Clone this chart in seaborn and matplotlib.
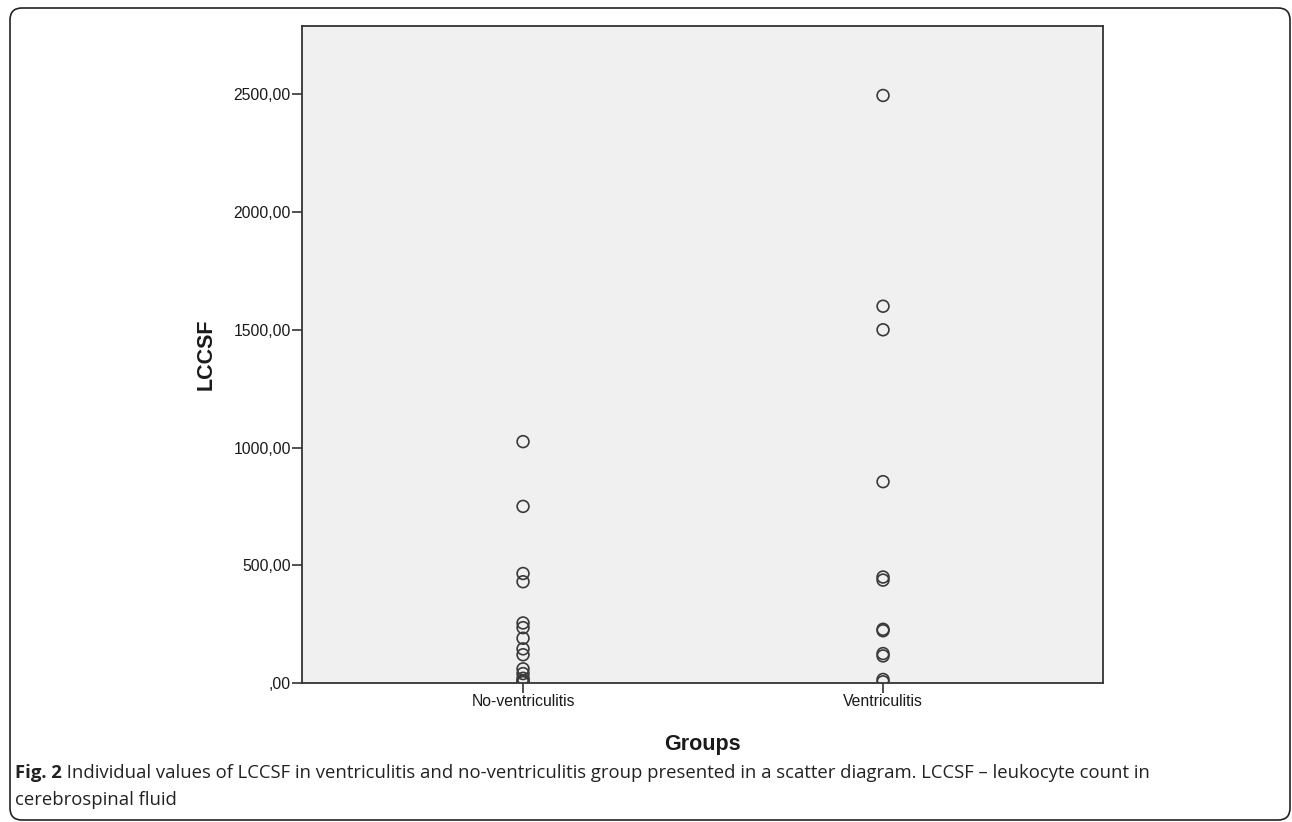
import seaborn as sns
import matplotlib.pyplot as plt
import matplotlib.patches as mpatches
import matplotlib.transforms as mtransforms
import pandas as pd

# Valores individuales de LCCSF por grupo
groups = ["No-ventriculitis", "Ventriculitis"]
no_ventriculitis = [1025, 750, 465, 430, 255, 235, 190, 145, 120, 60, 40, 20, 10, 5, 2]
ventriculitis = [2495, 1600, 1500, 855, 450, 437, 228, 222, 125, 115, 15, 5]

y_ticks = [0, 500, 1000, 1500, 2000, 2500]
y_tick_labels = [",00", "500,00", "1000,00", "1500,00", "2000,00", "2500,00"]

caption_bold = "Fig. 2"
caption_rest = (" Individual values of LCCSF in ventriculitis and no-ventriculitis group "
                "presented in a scatter diagram. LCCSF \u2013 leukocyte count in")
caption_line2 = "cerebrospinal fluid"

df = pd.DataFrame({
    "Groups": [groups[0]] * len(no_ventriculitis) + [groups[1]] * len(ventriculitis),
    "LCCSF": no_ventriculitis + ventriculitis,
})

sns.set_style("white")
plt.rcParams["font.family"] = ["Liberation Sans", "DejaVu Sans"]

fig = plt.figure(figsize=(12.92, 8.22), dpi=100)
ax = fig.add_axes([302 / 1292, 1 - 683 / 822, 801 / 1292, 657 / 822])
ax.set_facecolor("#f0f0f0")

sns.stripplot(data=df, x="Groups", y="LCCSF", order=groups, jitter=False,
              size=8.5, linewidth=1.2, color="#3a3a3a", ax=ax)
for coll in ax.collections:
    coll.set_facecolor("none")
    coll.set_edgecolor("#3a3a3a")

ax.set_xlim(-0.614, 1.611)
ax.set_ylim(0, 2790)
ax.set_yticks(y_ticks)
ax.set_yticklabels(y_tick_labels)

for s in ax.spines.values():
    s.set_visible(True)
    s.set_color("#333333")
    s.set_linewidth(1.3)
ax.tick_params(axis="both", direction="out", length=7, width=1.2, color="#333333",
               labelsize=11.3, labelcolor="#1a1a1a", left=True, bottom=True, pad=1)

ax.set_xlabel("Groups", fontsize=15.5, weight="bold", labelpad=18, color="#1a1a1a")
ax.set_ylabel("LCCSF", fontsize=15.5, weight="bold", labelpad=12, color="#1a1a1a")

# Pie de figura
cap_font = ["Open Sans", "DejaVu Sans"]
t_bold = fig.text(15 / 1292, 1 - 773 / 822, caption_bold, fontsize=13.3, weight="bold",
                  family=cap_font, color="#222222", va="center")
fig.canvas.draw()
bb = t_bold.get_window_extent()
fig.text(bb.x1 / 1292, 1 - 773 / 822, caption_rest, fontsize=13.3,
         family=cap_font, color="#222222", va="center")
fig.text(15 / 1292, 1 - 800 / 822, caption_line2, fontsize=13.3,
         family=cap_font, color="#222222", va="center")

# Marco redondeado
frame = mpatches.FancyBboxPatch((10, 2), 1280, 812,
                                boxstyle="round,pad=0,rounding_size=12",
                                fill=False, edgecolor="#222222", linewidth=1.2,
                                transform=mtransforms.IdentityTransform())
fig.add_artist(frame)

fig.savefig("out.png", dpi=100)
